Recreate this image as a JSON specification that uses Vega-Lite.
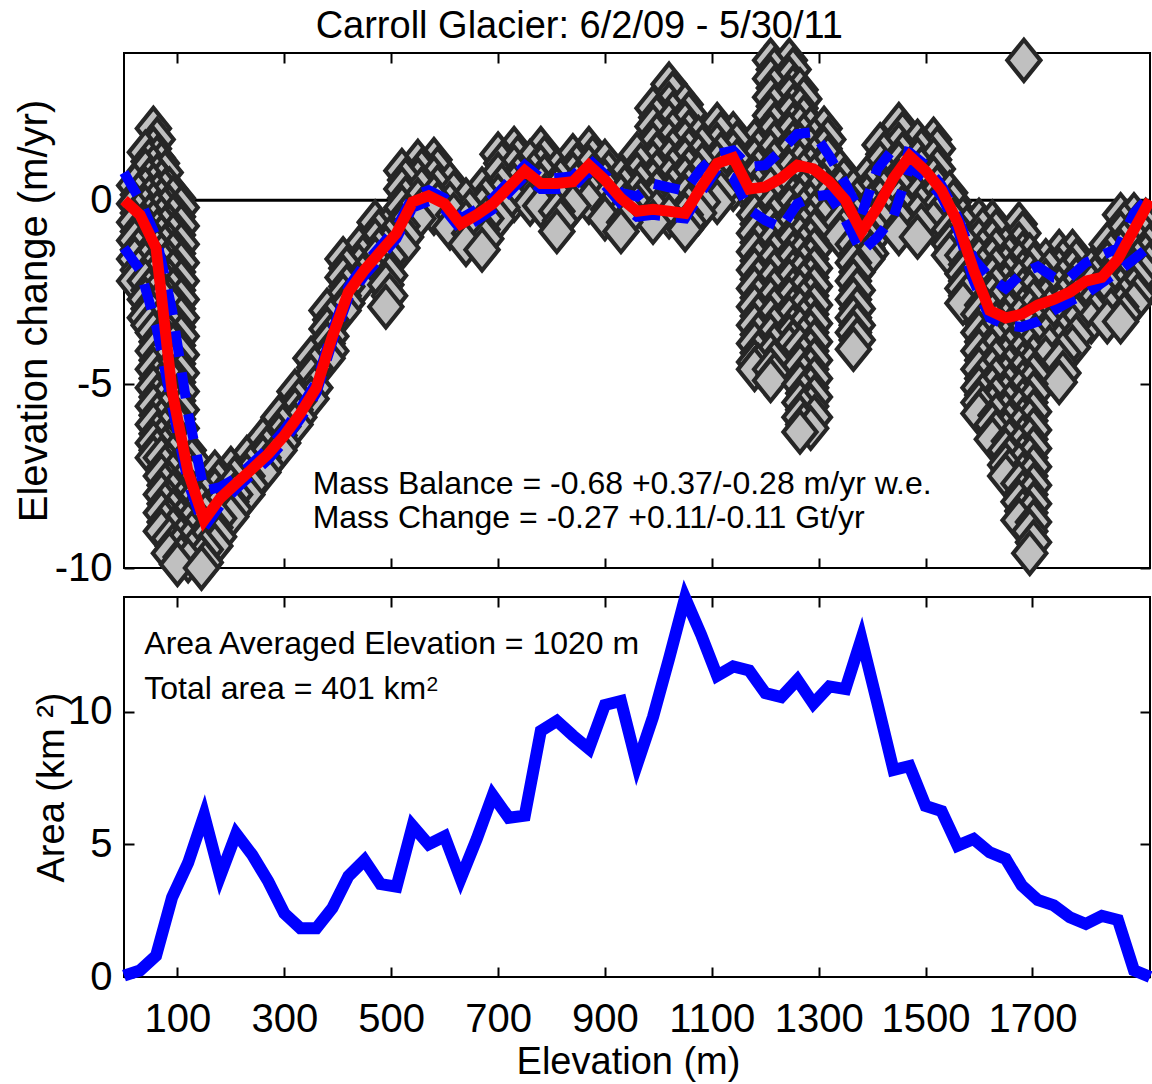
{
  "$schema": "https://vega.github.io/schema/vega-lite/v6.json",
  "autosize": {"type": "pad"},
  "padding": {"left": 12, "top": 6, "right": 0, "bottom": 0},
  "background": "white",
  "bounds": "flush",
  "spacing": 29,
  "config": {
    "font": "Liberation Sans",
    "view": {"stroke": "black", "strokeWidth": 2},
    "axis": {
      "grid": false,
      "domain": false,
      "tickColor": "black",
      "tickWidth": 2,
      "tickSize": -10,
      "labelColor": "black",
      "labelFont": "Liberation Sans",
      "labelFontSize": 40,
      "labelExpr": "'' + datum.value",
      "titleFont": "Liberation Sans",
      "titleFontWeight": "normal",
      "titleColor": "black"
    }
  },
  "datasets": {
    "lines": [
      {"e": 0, "r": 0.0, "u": 0.75, "l": -1.3, "a": 0.05},
      {"e": 30, "r": -0.4, "u": 0.0, "l": -1.9, "a": 0.25},
      {"e": 60, "r": -1.3, "u": -1.0, "l": -3.4, "a": 0.8},
      {"e": 90, "r": -5.2, "u": -3.0, "l": -5.6, "a": 3.0},
      {"e": 120, "r": -7.4, "u": -5.8, "l": -7.7, "a": 4.3},
      {"e": 150, "r": -8.7, "u": -7.9, "l": -8.9, "a": 6.1},
      {"e": 180, "r": -8.1, "u": -7.8, "l": -8.3, "a": 3.8},
      {"e": 210, "r": -7.7, "u": -7.55, "l": -7.85, "a": 5.4},
      {"e": 240, "r": -7.3, "u": -7.15, "l": -7.45, "a": 4.6},
      {"e": 270, "r": -6.9, "u": -6.75, "l": -7.05, "a": 3.6},
      {"e": 300, "r": -6.4, "u": -6.25, "l": -6.55, "a": 2.4},
      {"e": 330, "r": -5.8, "u": -5.65, "l": -5.95, "a": 1.84},
      {"e": 360, "r": -5.1, "u": -4.95, "l": -5.25, "a": 1.84},
      {"e": 390, "r": -3.7, "u": -3.55, "l": -3.85, "a": 2.6},
      {"e": 420, "r": -2.5, "u": -2.35, "l": -2.65, "a": 3.8},
      {"e": 450, "r": -1.9, "u": -1.75, "l": -2.05, "a": 4.4},
      {"e": 480, "r": -1.4, "u": -1.25, "l": -1.55, "a": 3.5},
      {"e": 510, "r": -0.9, "u": -0.75, "l": -1.05, "a": 3.4},
      {"e": 540, "r": -0.05, "u": 0.1, "l": -0.2, "a": 5.7},
      {"e": 570, "r": 0.12, "u": 0.27, "l": -0.03, "a": 5.0},
      {"e": 600, "r": -0.1, "u": 0.05, "l": -0.25, "a": 5.3},
      {"e": 630, "r": -0.65, "u": -0.5, "l": -0.8, "a": 3.7},
      {"e": 660, "r": -0.4, "u": -0.25, "l": -0.55, "a": 5.2},
      {"e": 690, "r": -0.1, "u": 0.05, "l": -0.25, "a": 6.85},
      {"e": 720, "r": 0.35, "u": 0.5, "l": 0.2, "a": 6.0},
      {"e": 750, "r": 0.8, "u": 0.95, "l": 0.65, "a": 6.08},
      {"e": 780, "r": 0.45, "u": 0.6, "l": 0.3, "a": 9.27},
      {"e": 810, "r": 0.45, "u": 0.6, "l": 0.3, "a": 9.65},
      {"e": 840, "r": 0.5, "u": 0.65, "l": 0.35, "a": 9.1},
      {"e": 870, "r": 0.95, "u": 1.1, "l": 0.8, "a": 8.6},
      {"e": 900, "r": 0.55, "u": 0.7, "l": 0.4, "a": 10.25},
      {"e": 930, "r": 0.05, "u": 0.2, "l": -0.1, "a": 10.4},
      {"e": 960, "r": -0.3, "u": 0.1, "l": -0.45, "a": 8.0},
      {"e": 990, "r": -0.25, "u": 0.45, "l": -0.4, "a": 9.8},
      {"e": 1020, "r": -0.3, "u": 0.35, "l": -0.45, "a": 12.0},
      {"e": 1050, "r": -0.36, "u": 0.25, "l": -0.5, "a": 14.29},
      {"e": 1080, "r": 0.35, "u": 0.85, "l": 0.2, "a": 12.9},
      {"e": 1110, "r": 1.0, "u": 1.25, "l": 0.85, "a": 11.35},
      {"e": 1140, "r": 1.15, "u": 1.35, "l": 0.6, "a": 11.7},
      {"e": 1170, "r": 0.3, "u": 0.9, "l": -0.25, "a": 11.55},
      {"e": 1200, "r": 0.36, "u": 0.95, "l": -0.55, "a": 10.7},
      {"e": 1230, "r": 0.6, "u": 1.35, "l": -0.75, "a": 10.55},
      {"e": 1260, "r": 0.95, "u": 1.8, "l": -0.1, "a": 11.2},
      {"e": 1290, "r": 0.85, "u": 1.85, "l": 0.1, "a": 10.3},
      {"e": 1320, "r": 0.5, "u": 1.2, "l": 0.15, "a": 10.95},
      {"e": 1350, "r": 0.0, "u": 0.45, "l": -0.55, "a": 10.85},
      {"e": 1380, "r": -0.86, "u": -0.4, "l": -1.4, "a": 12.75},
      {"e": 1410, "r": -0.2, "u": 0.85, "l": -1.0, "a": 10.3},
      {"e": 1440, "r": 0.6, "u": 1.4, "l": -0.45, "a": 7.8},
      {"e": 1470, "r": 1.2, "u": 1.3, "l": 0.9, "a": 7.95},
      {"e": 1500, "r": 0.8, "u": 0.95, "l": 0.6, "a": 6.45},
      {"e": 1530, "r": 0.27, "u": 0.4, "l": 0.1, "a": 6.25},
      {"e": 1560, "r": -0.6, "u": -0.45, "l": -0.8, "a": 4.95},
      {"e": 1590, "r": -1.9, "u": -1.6, "l": -2.2, "a": 5.2},
      {"e": 1620, "r": -3.0, "u": -2.1, "l": -3.2, "a": 4.7},
      {"e": 1650, "r": -3.2, "u": -2.4, "l": -3.4, "a": 4.45},
      {"e": 1680, "r": -3.1, "u": -2.0, "l": -3.45, "a": 3.45},
      {"e": 1710, "r": -2.85, "u": -1.8, "l": -3.3, "a": 2.9},
      {"e": 1740, "r": -2.7, "u": -2.1, "l": -3.0, "a": 2.7},
      {"e": 1770, "r": -2.5, "u": -2.1, "l": -2.75, "a": 2.25},
      {"e": 1800, "r": -2.2, "u": -1.7, "l": -2.55, "a": 2.0},
      {"e": 1830, "r": -2.1, "u": -1.5, "l": -2.25, "a": 2.3},
      {"e": 1860, "r": -1.6, "u": -1.3, "l": -1.95, "a": 2.15},
      {"e": 1890, "r": -0.8, "u": -0.35, "l": -1.6, "a": 0.25},
      {"e": 1920, "r": 0.0, "u": 0.1, "l": -1.25, "a": 0.0}
    ],
    "scatter": [
      {"e":20,"v":0.4},{"e":20,"v":-0.1},{"e":20,"v":-0.6},{"e":20,"v":-1.1},{"e":20,"v":-1.6},{"e":20,"v":-2.2},
      {"e":40,"v":1.3},{"e":40,"v":0.8},{"e":40,"v":0.3},{"e":40,"v":-0.2},{"e":40,"v":-0.7},{"e":40,"v":-1.2},{"e":40,"v":-1.7},{"e":40,"v":-2.2},{"e":40,"v":-2.7},{"e":40,"v":-3.2},
      {"e":55,"v":1.95},{"e":55,"v":1.4},{"e":55,"v":0.9},{"e":55,"v":0.4},{"e":55,"v":-0.1},{"e":55,"v":-0.6},{"e":55,"v":-1.1},{"e":55,"v":-1.6},{"e":55,"v":-2.1},{"e":55,"v":-2.6},{"e":55,"v":-3.1},{"e":55,"v":-3.6},{"e":55,"v":-4.1},{"e":55,"v":-4.6},{"e":55,"v":-5.1},{"e":55,"v":-5.6},{"e":55,"v":-6.1},{"e":55,"v":-6.6},{"e":55,"v":-7.0},
      {"e":70,"v":1.0},{"e":70,"v":0.5},{"e":70,"v":0.0},{"e":70,"v":-0.5},{"e":70,"v":-1.0},{"e":70,"v":-1.5},{"e":70,"v":-2.0},{"e":70,"v":-2.5},{"e":70,"v":-3.0},{"e":70,"v":-3.5},{"e":70,"v":-4.0},{"e":70,"v":-4.5},{"e":70,"v":-5.0},{"e":70,"v":-5.5},{"e":70,"v":-6.0},{"e":70,"v":-6.5},{"e":70,"v":-7.0},{"e":70,"v":-7.5},{"e":70,"v":-8.0},{"e":70,"v":-8.5},{"e":70,"v":-9.0},
      {"e":85,"v":0.3},{"e":85,"v":-0.2},{"e":85,"v":-0.7},{"e":85,"v":-1.2},{"e":85,"v":-1.7},{"e":85,"v":-2.2},{"e":85,"v":-2.7},{"e":85,"v":-3.2},{"e":85,"v":-3.7},{"e":85,"v":-4.2},{"e":85,"v":-4.7},{"e":85,"v":-5.2},{"e":85,"v":-5.7},{"e":85,"v":-6.2},{"e":85,"v":-6.7},{"e":85,"v":-7.2},{"e":85,"v":-7.7},{"e":85,"v":-8.2},{"e":85,"v":-8.7},{"e":85,"v":-9.2},{"e":85,"v":-9.6},
      {"e":100,"v":0.05},{"e":100,"v":-0.45},{"e":100,"v":-0.95},{"e":100,"v":-1.45},{"e":100,"v":-1.95},{"e":100,"v":-2.45},{"e":100,"v":-2.95},{"e":100,"v":-3.45},{"e":100,"v":-3.95},{"e":100,"v":-4.45},{"e":100,"v":-4.95},{"e":100,"v":-5.45},{"e":100,"v":-5.95},{"e":100,"v":-6.45},{"e":100,"v":-6.95},{"e":100,"v":-7.45},{"e":100,"v":-7.95},{"e":100,"v":-8.45},{"e":100,"v":-8.95},{"e":100,"v":-9.45},{"e":100,"v":-9.9},
      {"e":120,"v":-6.8},{"e":120,"v":-7.3},{"e":120,"v":-7.8},{"e":120,"v":-8.3},{"e":120,"v":-8.8},{"e":120,"v":-9.3},{"e":120,"v":-9.8},
      {"e":145,"v":-7.8},{"e":145,"v":-8.3},{"e":145,"v":-8.8},{"e":145,"v":-9.3},{"e":145,"v":-9.7},{"e":145,"v":-10.0},
      {"e":170,"v":-7.4},{"e":170,"v":-7.9},{"e":170,"v":-8.4},{"e":170,"v":-8.9},{"e":170,"v":-9.4},
      {"e":200,"v":-7.3},{"e":200,"v":-7.8},{"e":200,"v":-8.2},{"e":200,"v":-8.6},
      {"e":230,"v":-7.0},{"e":230,"v":-7.5},{"e":230,"v":-8.0},
      {"e":260,"v":-6.5},{"e":260,"v":-7.0},{"e":260,"v":-7.4},
      {"e":290,"v":-5.9},{"e":290,"v":-6.4},{"e":290,"v":-6.8},
      {"e":320,"v":-5.2},{"e":320,"v":-5.7},{"e":320,"v":-6.1},
      {"e":350,"v":-4.3},{"e":350,"v":-4.8},{"e":350,"v":-5.4},
      {"e":380,"v":-3.0},{"e":380,"v":-3.5},{"e":380,"v":-3.9},{"e":380,"v":-4.3},
      {"e":410,"v":-1.6},{"e":410,"v":-2.1},{"e":410,"v":-2.6},{"e":410,"v":-3.0},
      {"e":440,"v":-1.3},{"e":440,"v":-1.8},{"e":440,"v":-2.3},
      {"e":470,"v":-0.6},{"e":470,"v":-1.1},{"e":470,"v":-1.6},{"e":470,"v":-2.0},
      {"e":490,"v":-0.8},{"e":490,"v":-1.3},{"e":490,"v":-1.8},{"e":490,"v":-2.3},{"e":490,"v":-2.9},
      {"e":520,"v":0.8},{"e":520,"v":0.3},{"e":520,"v":-0.2},{"e":520,"v":-0.7},{"e":520,"v":-1.3},
      {"e":550,"v":1.05},{"e":550,"v":0.55},{"e":550,"v":0.0},{"e":550,"v":-0.5},
      {"e":580,"v":1.1},{"e":580,"v":0.6},{"e":580,"v":0.1},{"e":580,"v":-0.35},
      {"e":610,"v":0.45},{"e":610,"v":-0.1},{"e":610,"v":-0.75},
      {"e":640,"v":0.0},{"e":640,"v":-0.6},{"e":640,"v":-1.2},
      {"e":670,"v":0.3},{"e":670,"v":-0.2},{"e":670,"v":-0.8},{"e":670,"v":-1.35},
      {"e":700,"v":1.25},{"e":700,"v":0.7},{"e":700,"v":0.1},{"e":700,"v":-0.5},
      {"e":730,"v":1.4},{"e":730,"v":0.9},{"e":730,"v":0.4},{"e":730,"v":0.0},
      {"e":760,"v":1.05},{"e":760,"v":0.5},{"e":760,"v":-0.1},
      {"e":780,"v":1.4},{"e":780,"v":0.9},{"e":780,"v":0.4},{"e":780,"v":-0.15},
      {"e":810,"v":0.8},{"e":810,"v":0.3},{"e":810,"v":-0.3},{"e":810,"v":-0.85},
      {"e":840,"v":1.2},{"e":840,"v":0.7},{"e":840,"v":0.2},{"e":840,"v":-0.15},
      {"e":870,"v":1.4},{"e":870,"v":0.9},{"e":870,"v":0.4},{"e":870,"v":-0.05},
      {"e":900,"v":1.05},{"e":900,"v":0.5},{"e":900,"v":0.0},{"e":900,"v":-0.5},
      {"e":930,"v":0.6},{"e":930,"v":0.1},{"e":930,"v":-0.4},{"e":930,"v":-0.85},
      {"e":960,"v":1.25},{"e":960,"v":0.7},{"e":960,"v":0.2},{"e":960,"v":-0.15},
      {"e":990,"v":2.5},{"e":990,"v":2.0},{"e":990,"v":1.5},{"e":990,"v":1.0},{"e":990,"v":0.5},{"e":990,"v":0.0},{"e":990,"v":-0.6},
      {"e":1020,"v":3.15},{"e":1020,"v":2.6},{"e":1020,"v":2.1},{"e":1020,"v":1.6},{"e":1020,"v":1.1},{"e":1020,"v":0.6},{"e":1020,"v":0.1},{"e":1020,"v":-0.45},
      {"e":1050,"v":2.6},{"e":1050,"v":2.1},{"e":1050,"v":1.6},{"e":1050,"v":1.1},{"e":1050,"v":0.6},{"e":1050,"v":0.1},{"e":1050,"v":-0.4},{"e":1050,"v":-0.8},
      {"e":1075,"v":1.7},{"e":1075,"v":1.2},{"e":1075,"v":0.7},{"e":1075,"v":0.2},{"e":1075,"v":-0.35},
      {"e":1110,"v":2.05},{"e":1110,"v":1.5},{"e":1110,"v":1.0},{"e":1110,"v":0.5},{"e":1110,"v":-0.05},
      {"e":1140,"v":1.8},{"e":1140,"v":1.3},{"e":1140,"v":0.8},{"e":1140,"v":0.3},
      {"e":1180,"v":1.6},{"e":1180,"v":1.1},{"e":1180,"v":0.6},{"e":1180,"v":0.1},{"e":1180,"v":-0.4},{"e":1180,"v":-0.9},{"e":1180,"v":-1.4},{"e":1180,"v":-1.9},{"e":1180,"v":-2.4},{"e":1180,"v":-2.9},{"e":1180,"v":-3.4},{"e":1180,"v":-3.9},{"e":1180,"v":-4.4},{"e":1180,"v":-4.6},
      {"e":1210,"v":3.8},{"e":1210,"v":3.3},{"e":1210,"v":2.8},{"e":1210,"v":2.3},{"e":1210,"v":1.8},{"e":1210,"v":1.3},{"e":1210,"v":0.8},{"e":1210,"v":0.3},{"e":1210,"v":-0.2},{"e":1210,"v":-0.7},{"e":1210,"v":-1.2},{"e":1210,"v":-1.7},{"e":1210,"v":-2.2},{"e":1210,"v":-2.7},{"e":1210,"v":-3.2},{"e":1210,"v":-3.7},{"e":1210,"v":-4.2},{"e":1210,"v":-4.6},{"e":1210,"v":-4.9},
      {"e":1245,"v":3.8},{"e":1245,"v":3.3},{"e":1245,"v":2.8},{"e":1245,"v":2.3},{"e":1245,"v":1.8},{"e":1245,"v":1.3},{"e":1245,"v":0.8},{"e":1245,"v":0.3},{"e":1245,"v":-0.2},{"e":1245,"v":-0.7},{"e":1245,"v":-1.2},{"e":1245,"v":-1.7},{"e":1245,"v":-2.2},{"e":1245,"v":-2.7},{"e":1245,"v":-3.2},{"e":1245,"v":-3.7},{"e":1245,"v":-4.0},
      {"e":1265,"v":3.0},{"e":1265,"v":2.5},{"e":1265,"v":2.0},{"e":1265,"v":1.5},{"e":1265,"v":1.0},{"e":1265,"v":0.5},{"e":1265,"v":0.0},{"e":1265,"v":-0.5},{"e":1265,"v":-1.0},{"e":1265,"v":-1.5},{"e":1265,"v":-2.0},{"e":1265,"v":-2.5},{"e":1265,"v":-3.0},{"e":1265,"v":-3.5},{"e":1265,"v":-4.0},{"e":1265,"v":-4.5},{"e":1265,"v":-5.0},{"e":1265,"v":-5.5},{"e":1265,"v":-5.9},{"e":1265,"v":-6.3},
      {"e":1285,"v":1.95},{"e":1285,"v":1.4},{"e":1285,"v":0.9},{"e":1285,"v":0.4},{"e":1285,"v":-0.1},{"e":1285,"v":-0.6},{"e":1285,"v":-1.1},{"e":1285,"v":-1.6},{"e":1285,"v":-2.1},{"e":1285,"v":-2.6},{"e":1285,"v":-3.1},{"e":1285,"v":-3.6},{"e":1285,"v":-4.1},{"e":1285,"v":-4.6},{"e":1285,"v":-5.1},{"e":1285,"v":-5.6},{"e":1285,"v":-6.2},
      {"e":1310,"v":1.95},{"e":1310,"v":1.4},{"e":1310,"v":0.9},{"e":1310,"v":0.4},{"e":1310,"v":0.0},{"e":1310,"v":-0.5},
      {"e":1340,"v":0.8},{"e":1340,"v":0.3},{"e":1340,"v":-0.2},{"e":1340,"v":-0.6},{"e":1340,"v":-1.0},
      {"e":1365,"v":0.27},{"e":1365,"v":-0.2},{"e":1365,"v":-0.7},{"e":1365,"v":-1.2},{"e":1365,"v":-1.7},{"e":1365,"v":-2.2},{"e":1365,"v":-2.7},{"e":1365,"v":-3.2},{"e":1365,"v":-3.6},{"e":1365,"v":-4.05},
      {"e":1390,"v":0.6},{"e":1390,"v":0.1},{"e":1390,"v":-0.4},{"e":1390,"v":-0.9},{"e":1390,"v":-1.3},{"e":1390,"v":-1.6},
      {"e":1415,"v":1.5},{"e":1415,"v":1.0},{"e":1415,"v":0.5},{"e":1415,"v":0.0},{"e":1415,"v":-0.5},
      {"e":1450,"v":2.05},{"e":1450,"v":1.5},{"e":1450,"v":1.0},{"e":1450,"v":0.5},{"e":1450,"v":0.0},{"e":1450,"v":-0.45},{"e":1450,"v":-0.9},
      {"e":1485,"v":1.6},{"e":1485,"v":1.1},{"e":1485,"v":0.6},{"e":1485,"v":0.1},{"e":1485,"v":-0.4},{"e":1485,"v":-1.0},
      {"e":1515,"v":1.65},{"e":1515,"v":1.1},{"e":1515,"v":0.6},{"e":1515,"v":0.1},{"e":1515,"v":-0.3},{"e":1515,"v":-0.6},
      {"e":1545,"v":0.2},{"e":1545,"v":-0.3},{"e":1545,"v":-0.8},{"e":1545,"v":-1.2},{"e":1545,"v":-1.5},
      {"e":1570,"v":-0.5},{"e":1570,"v":-1.0},{"e":1570,"v":-1.5},{"e":1570,"v":-2.0},{"e":1570,"v":-2.4},{"e":1570,"v":-2.8},
      {"e":1600,"v":-0.55},{"e":1600,"v":-1.1},{"e":1600,"v":-1.6},{"e":1600,"v":-2.1},{"e":1600,"v":-2.6},{"e":1600,"v":-3.1},{"e":1600,"v":-3.6},{"e":1600,"v":-4.1},{"e":1600,"v":-4.6},{"e":1600,"v":-5.1},{"e":1600,"v":-5.5},{"e":1600,"v":-5.8},
      {"e":1625,"v":-0.6},{"e":1625,"v":-1.1},{"e":1625,"v":-1.6},{"e":1625,"v":-2.1},{"e":1625,"v":-2.6},{"e":1625,"v":-3.1},{"e":1625,"v":-3.6},{"e":1625,"v":-4.1},{"e":1625,"v":-4.6},{"e":1625,"v":-5.1},{"e":1625,"v":-5.6},{"e":1625,"v":-6.1},{"e":1625,"v":-6.5},
      {"e":1650,"v":-1.3},{"e":1650,"v":-1.8},{"e":1650,"v":-2.3},{"e":1650,"v":-2.8},{"e":1650,"v":-3.3},{"e":1650,"v":-3.8},{"e":1650,"v":-4.3},{"e":1650,"v":-4.8},{"e":1650,"v":-5.3},{"e":1650,"v":-5.8},{"e":1650,"v":-6.3},{"e":1650,"v":-6.8},{"e":1650,"v":-7.2},{"e":1650,"v":-7.5},
      {"e":1675,"v":-0.65},{"e":1675,"v":-1.2},{"e":1675,"v":-1.7},{"e":1675,"v":-2.2},{"e":1675,"v":-2.7},{"e":1675,"v":-3.2},{"e":1675,"v":-3.7},{"e":1675,"v":-4.2},{"e":1675,"v":-4.7},{"e":1675,"v":-5.2},{"e":1675,"v":-5.7},{"e":1675,"v":-6.2},{"e":1675,"v":-6.7},{"e":1675,"v":-7.2},{"e":1675,"v":-7.7},{"e":1675,"v":-8.2},{"e":1675,"v":-8.7},
      {"e":1695,"v":-1.5},{"e":1695,"v":-2.0},{"e":1695,"v":-2.5},{"e":1695,"v":-3.0},{"e":1695,"v":-3.5},{"e":1695,"v":-4.0},{"e":1695,"v":-4.5},{"e":1695,"v":-5.0},{"e":1695,"v":-5.5},{"e":1695,"v":-6.0},{"e":1695,"v":-6.5},{"e":1695,"v":-7.0},{"e":1695,"v":-7.5},{"e":1695,"v":-8.0},{"e":1695,"v":-8.5},{"e":1695,"v":-9.0},{"e":1695,"v":-9.6},
      {"e":1725,"v":-1.65},{"e":1725,"v":-2.2},{"e":1725,"v":-2.7},{"e":1725,"v":-3.2},{"e":1725,"v":-3.7},{"e":1725,"v":-4.3},
      {"e":1750,"v":-1.4},{"e":1750,"v":-1.9},{"e":1750,"v":-2.4},{"e":1750,"v":-2.9},{"e":1750,"v":-3.4},{"e":1750,"v":-3.9},{"e":1750,"v":-4.4},{"e":1750,"v":-4.95},
      {"e":1775,"v":-1.4},{"e":1775,"v":-1.9},{"e":1775,"v":-2.4},{"e":1775,"v":-2.9},{"e":1775,"v":-3.4},{"e":1775,"v":-4.0},
      {"e":1810,"v":-1.9},{"e":1810,"v":-2.3},{"e":1810,"v":-2.8},{"e":1810,"v":-3.3},
      {"e":1840,"v":-1.2},{"e":1840,"v":-1.7},{"e":1840,"v":-2.2},{"e":1840,"v":-2.7},{"e":1840,"v":-3.3},
      {"e":1865,"v":-0.4},{"e":1865,"v":-0.9},{"e":1865,"v":-1.4},{"e":1865,"v":-1.9},{"e":1865,"v":-2.4},{"e":1865,"v":-2.9},{"e":1865,"v":-3.3},
      {"e":1890,"v":-0.4},{"e":1890,"v":-0.9},{"e":1890,"v":-1.4},{"e":1890,"v":-1.9},{"e":1890,"v":-2.4},{"e":1890,"v":-2.8},
      {"e":1912,"v":-0.55},{"e":1912,"v":-1.0},{"e":1912,"v":-1.5},{"e":1912,"v":-2.0},
      {"e":1684,"v":3.8},
      {"e":27,"v":0.15},{"e":27,"v":-0.35},{"e":27,"v":-0.85},{"e":27,"v":-1.35},{"e":27,"v":-1.9},
      {"e":47,"v":1.05},{"e":47,"v":0.55},{"e":47,"v":0.05},{"e":47,"v":-0.45},{"e":47,"v":-0.95},{"e":47,"v":-1.45},{"e":47,"v":-1.95},{"e":47,"v":-2.45},{"e":47,"v":-2.95},{"e":47,"v":-3.4},
      {"e":62,"v":1.65},{"e":62,"v":1.15},{"e":62,"v":0.65},{"e":62,"v":0.15},{"e":62,"v":-0.35},{"e":62,"v":-0.85},{"e":62,"v":-1.35},{"e":62,"v":-1.85},{"e":62,"v":-2.35},{"e":62,"v":-2.85},{"e":62,"v":-3.35},{"e":62,"v":-3.85},{"e":62,"v":-4.35},{"e":62,"v":-4.85},{"e":62,"v":-5.35},{"e":62,"v":-5.85},{"e":62,"v":-6.35},{"e":62,"v":-6.8},
      {"e":77,"v":0.75},{"e":77,"v":0.25},{"e":77,"v":-0.25},{"e":77,"v":-0.75},{"e":77,"v":-1.25},{"e":77,"v":-1.75},{"e":77,"v":-2.25},{"e":77,"v":-2.75},{"e":77,"v":-3.25},{"e":77,"v":-3.75},{"e":77,"v":-4.25},{"e":77,"v":-4.75},{"e":77,"v":-5.25},{"e":77,"v":-5.75},{"e":77,"v":-6.25},{"e":77,"v":-6.75},{"e":77,"v":-7.25},{"e":77,"v":-7.75},{"e":77,"v":-8.25},{"e":77,"v":-8.75},
      {"e":92,"v":0.05},{"e":92,"v":-0.45},{"e":92,"v":-0.95},{"e":92,"v":-1.45},{"e":92,"v":-1.95},{"e":92,"v":-2.45},{"e":92,"v":-2.95},{"e":92,"v":-3.45},{"e":92,"v":-3.95},{"e":92,"v":-4.45},{"e":92,"v":-4.95},{"e":92,"v":-5.45},{"e":92,"v":-5.95},{"e":92,"v":-6.45},{"e":92,"v":-6.95},{"e":92,"v":-7.45},{"e":92,"v":-7.95},{"e":92,"v":-8.45},{"e":92,"v":-8.95},{"e":92,"v":-9.4},
      {"e":107,"v":-0.2},{"e":107,"v":-0.7},{"e":107,"v":-1.2},{"e":107,"v":-1.7},{"e":107,"v":-2.2},{"e":107,"v":-2.7},{"e":107,"v":-3.2},{"e":107,"v":-3.7},{"e":107,"v":-4.2},{"e":107,"v":-4.7},{"e":107,"v":-5.2},{"e":107,"v":-5.7},{"e":107,"v":-6.2},{"e":107,"v":-6.7},{"e":107,"v":-7.2},{"e":107,"v":-7.7},{"e":107,"v":-8.2},{"e":107,"v":-8.7},{"e":107,"v":-9.2},{"e":107,"v":-9.7},
      {"e":127,"v":-7.05},{"e":127,"v":-7.55},{"e":127,"v":-8.05},{"e":127,"v":-8.55},{"e":127,"v":-9.05},{"e":127,"v":-9.55},
      {"e":152,"v":-8.05},{"e":152,"v":-8.55},{"e":152,"v":-9.05},{"e":152,"v":-9.5},{"e":152,"v":-9.85},
      {"e":177,"v":-7.65},{"e":177,"v":-8.15},{"e":177,"v":-8.65},{"e":177,"v":-9.15},
      {"e":207,"v":-7.55},{"e":207,"v":-8.0},{"e":207,"v":-8.4},
      {"e":237,"v":-7.25},{"e":237,"v":-7.75},
      {"e":267,"v":-6.75},{"e":267,"v":-7.2},
      {"e":297,"v":-6.15},{"e":297,"v":-6.6},
      {"e":327,"v":-5.45},{"e":327,"v":-5.9},
      {"e":357,"v":-4.55},{"e":357,"v":-5.1},
      {"e":387,"v":-3.25},{"e":387,"v":-3.7},{"e":387,"v":-4.1},
      {"e":417,"v":-1.85},{"e":417,"v":-2.35},{"e":417,"v":-2.8},
      {"e":447,"v":-1.55},{"e":447,"v":-2.05},
      {"e":477,"v":-0.85},{"e":477,"v":-1.35},{"e":477,"v":-1.8},
      {"e":497,"v":-1.05},{"e":497,"v":-1.55},{"e":497,"v":-2.05},{"e":497,"v":-2.6},
      {"e":527,"v":0.55},{"e":527,"v":0.05},{"e":527,"v":-0.45},{"e":527,"v":-1.0},
      {"e":557,"v":0.8},{"e":557,"v":0.3},{"e":557,"v":-0.25},
      {"e":587,"v":0.85},{"e":587,"v":0.35},{"e":587,"v":-0.1},
      {"e":617,"v":0.2},{"e":617,"v":-0.4},
      {"e":647,"v":-0.3},{"e":647,"v":-0.9},
      {"e":677,"v":0.05},{"e":677,"v":-0.5},{"e":677,"v":-1.05},
      {"e":707,"v":1.0},{"e":707,"v":0.4},{"e":707,"v":-0.2},
      {"e":737,"v":1.15},{"e":737,"v":0.65},{"e":737,"v":0.2},
      {"e":767,"v":0.75},{"e":767,"v":0.2},
      {"e":787,"v":1.15},{"e":787,"v":0.65},{"e":787,"v":0.1},
      {"e":817,"v":0.55},{"e":817,"v":0.0},{"e":817,"v":-0.55},
      {"e":847,"v":0.95},{"e":847,"v":0.45},{"e":847,"v":0.0},
      {"e":877,"v":1.15},{"e":877,"v":0.65},{"e":877,"v":0.15},
      {"e":907,"v":0.75},{"e":907,"v":0.25},{"e":907,"v":-0.25},
      {"e":937,"v":0.35},{"e":937,"v":-0.15},{"e":937,"v":-0.6},
      {"e":967,"v":0.95},{"e":967,"v":0.45},{"e":967,"v":0.0},
      {"e":997,"v":2.25},{"e":997,"v":1.75},{"e":997,"v":1.25},{"e":997,"v":0.75},{"e":997,"v":0.25},{"e":997,"v":-0.3},
      {"e":1027,"v":2.9},{"e":1027,"v":2.35},{"e":1027,"v":1.85},{"e":1027,"v":1.35},{"e":1027,"v":0.85},{"e":1027,"v":0.35},{"e":1027,"v":-0.15},
      {"e":1057,"v":2.35},{"e":1057,"v":1.85},{"e":1057,"v":1.35},{"e":1057,"v":0.85},{"e":1057,"v":0.35},{"e":1057,"v":-0.15},{"e":1057,"v":-0.6},
      {"e":1082,"v":1.45},{"e":1082,"v":0.95},{"e":1082,"v":0.45},{"e":1082,"v":-0.05},
      {"e":1117,"v":1.8},{"e":1117,"v":1.25},{"e":1117,"v":0.75},{"e":1117,"v":0.2},
      {"e":1147,"v":1.55},{"e":1147,"v":1.05},{"e":1147,"v":0.55},
      {"e":1187,"v":1.35},{"e":1187,"v":0.85},{"e":1187,"v":0.35},{"e":1187,"v":-0.15},{"e":1187,"v":-0.65},{"e":1187,"v":-1.15},{"e":1187,"v":-1.65},{"e":1187,"v":-2.15},{"e":1187,"v":-2.65},{"e":1187,"v":-3.15},{"e":1187,"v":-3.65},{"e":1187,"v":-4.15},{"e":1187,"v":-4.5},
      {"e":1217,"v":3.55},{"e":1217,"v":3.05},{"e":1217,"v":2.55},{"e":1217,"v":2.05},{"e":1217,"v":1.55},{"e":1217,"v":1.05},{"e":1217,"v":0.55},{"e":1217,"v":0.05},{"e":1217,"v":-0.45},{"e":1217,"v":-0.95},{"e":1217,"v":-1.45},{"e":1217,"v":-1.95},{"e":1217,"v":-2.45},{"e":1217,"v":-2.95},{"e":1217,"v":-3.45},{"e":1217,"v":-3.95},{"e":1217,"v":-4.4},{"e":1217,"v":-4.75},
      {"e":1252,"v":3.55},{"e":1252,"v":3.05},{"e":1252,"v":2.55},{"e":1252,"v":2.05},{"e":1252,"v":1.55},{"e":1252,"v":1.05},{"e":1252,"v":0.55},{"e":1252,"v":0.05},{"e":1252,"v":-0.45},{"e":1252,"v":-0.95},{"e":1252,"v":-1.45},{"e":1252,"v":-1.95},{"e":1252,"v":-2.45},{"e":1252,"v":-2.95},{"e":1252,"v":-3.45},{"e":1252,"v":-3.85},
      {"e":1272,"v":2.75},{"e":1272,"v":2.25},{"e":1272,"v":1.75},{"e":1272,"v":1.25},{"e":1272,"v":0.75},{"e":1272,"v":0.25},{"e":1272,"v":-0.25},{"e":1272,"v":-0.75},{"e":1272,"v":-1.25},{"e":1272,"v":-1.75},{"e":1272,"v":-2.25},{"e":1272,"v":-2.75},{"e":1272,"v":-3.25},{"e":1272,"v":-3.75},{"e":1272,"v":-4.25},{"e":1272,"v":-4.75},{"e":1272,"v":-5.25},{"e":1272,"v":-5.7},{"e":1272,"v":-6.1},
      {"e":1292,"v":1.65},{"e":1292,"v":1.15},{"e":1292,"v":0.65},{"e":1292,"v":0.15},{"e":1292,"v":-0.35},{"e":1292,"v":-0.85},{"e":1292,"v":-1.35},{"e":1292,"v":-1.85},{"e":1292,"v":-2.35},{"e":1292,"v":-2.85},{"e":1292,"v":-3.35},{"e":1292,"v":-3.85},{"e":1292,"v":-4.35},{"e":1292,"v":-4.85},{"e":1292,"v":-5.35},{"e":1292,"v":-5.9},
      {"e":1317,"v":1.65},{"e":1317,"v":1.15},{"e":1317,"v":0.65},{"e":1317,"v":0.2},{"e":1317,"v":-0.25},
      {"e":1347,"v":0.55},{"e":1347,"v":0.05},{"e":1347,"v":-0.4},{"e":1347,"v":-0.8},
      {"e":1372,"v":0.0},{"e":1372,"v":-0.45},{"e":1372,"v":-0.95},{"e":1372,"v":-1.45},{"e":1372,"v":-1.95},{"e":1372,"v":-2.45},{"e":1372,"v":-2.95},{"e":1372,"v":-3.4},{"e":1372,"v":-3.8},
      {"e":1397,"v":0.35},{"e":1397,"v":-0.15},{"e":1397,"v":-0.65},{"e":1397,"v":-1.1},{"e":1397,"v":-1.45},
      {"e":1422,"v":1.25},{"e":1422,"v":0.75},{"e":1422,"v":0.25},{"e":1422,"v":-0.25},
      {"e":1457,"v":1.8},{"e":1457,"v":1.25},{"e":1457,"v":0.75},{"e":1457,"v":0.25},{"e":1457,"v":-0.2},{"e":1457,"v":-0.65},
      {"e":1492,"v":1.35},{"e":1492,"v":0.85},{"e":1492,"v":0.35},{"e":1492,"v":-0.15},{"e":1492,"v":-0.7},
      {"e":1522,"v":1.4},{"e":1522,"v":0.85},{"e":1522,"v":0.35},{"e":1522,"v":-0.1},{"e":1522,"v":-0.45},
      {"e":1552,"v":-0.05},{"e":1552,"v":-0.55},{"e":1552,"v":-1.0},{"e":1552,"v":-1.35},
      {"e":1577,"v":-0.75},{"e":1577,"v":-1.25},{"e":1577,"v":-1.75},{"e":1577,"v":-2.2},{"e":1577,"v":-2.6},
      {"e":1607,"v":-0.8},{"e":1607,"v":-1.35},{"e":1607,"v":-1.85},{"e":1607,"v":-2.35},{"e":1607,"v":-2.85},{"e":1607,"v":-3.35},{"e":1607,"v":-3.85},{"e":1607,"v":-4.35},{"e":1607,"v":-4.85},{"e":1607,"v":-5.3},{"e":1607,"v":-5.65},
      {"e":1632,"v":-0.85},{"e":1632,"v":-1.35},{"e":1632,"v":-1.85},{"e":1632,"v":-2.35},{"e":1632,"v":-2.85},{"e":1632,"v":-3.35},{"e":1632,"v":-3.85},{"e":1632,"v":-4.35},{"e":1632,"v":-4.85},{"e":1632,"v":-5.35},{"e":1632,"v":-5.85},{"e":1632,"v":-6.3},
      {"e":1657,"v":-1.55},{"e":1657,"v":-2.05},{"e":1657,"v":-2.55},{"e":1657,"v":-3.05},{"e":1657,"v":-3.55},{"e":1657,"v":-4.05},{"e":1657,"v":-4.55},{"e":1657,"v":-5.05},{"e":1657,"v":-5.55},{"e":1657,"v":-6.05},{"e":1657,"v":-6.55},{"e":1657,"v":-7.0},{"e":1657,"v":-7.35},
      {"e":1682,"v":-0.9},{"e":1682,"v":-1.45},{"e":1682,"v":-1.95},{"e":1682,"v":-2.45},{"e":1682,"v":-2.95},{"e":1682,"v":-3.45},{"e":1682,"v":-3.95},{"e":1682,"v":-4.45},{"e":1682,"v":-4.95},{"e":1682,"v":-5.45},{"e":1682,"v":-5.95},{"e":1682,"v":-6.45},{"e":1682,"v":-6.95},{"e":1682,"v":-7.45},{"e":1682,"v":-7.95},{"e":1682,"v":-8.45},
      {"e":1702,"v":-1.75},{"e":1702,"v":-2.25},{"e":1702,"v":-2.75},{"e":1702,"v":-3.25},{"e":1702,"v":-3.75},{"e":1702,"v":-4.25},{"e":1702,"v":-4.75},{"e":1702,"v":-5.25},{"e":1702,"v":-5.75},{"e":1702,"v":-6.25},{"e":1702,"v":-6.75},{"e":1702,"v":-7.25},{"e":1702,"v":-7.75},{"e":1702,"v":-8.25},{"e":1702,"v":-8.75},{"e":1702,"v":-9.3},
      {"e":1732,"v":-1.9},{"e":1732,"v":-2.45},{"e":1732,"v":-2.95},{"e":1732,"v":-3.45},{"e":1732,"v":-4.0},
      {"e":1757,"v":-1.65},{"e":1757,"v":-2.15},{"e":1757,"v":-2.65},{"e":1757,"v":-3.15},{"e":1757,"v":-3.65},{"e":1757,"v":-4.15},{"e":1757,"v":-4.7},
      {"e":1782,"v":-1.65},{"e":1782,"v":-2.15},{"e":1782,"v":-2.65},{"e":1782,"v":-3.15},{"e":1782,"v":-3.7},
      {"e":1817,"v":-2.1},{"e":1817,"v":-2.55},{"e":1817,"v":-3.05},
      {"e":1847,"v":-1.45},{"e":1847,"v":-1.95},{"e":1847,"v":-2.45},{"e":1847,"v":-3.0},
      {"e":1872,"v":-0.65},{"e":1872,"v":-1.15},{"e":1872,"v":-1.65},{"e":1872,"v":-2.15},{"e":1872,"v":-2.65},{"e":1872,"v":-3.1},
      {"e":1897,"v":-0.65},{"e":1897,"v":-1.15},{"e":1897,"v":-1.65},{"e":1897,"v":-2.15},{"e":1897,"v":-2.6},
      {"e":1919,"v":-0.8},{"e":1919,"v":-1.25},{"e":1919,"v":-1.75}
    ]
  },
  "vconcat": [
    {
      "width": 1026,
      "height": 515,
      "layer": [
        {
          "data": {"values": [{}]},
          "mark": {"type": "rule", "color": "black", "strokeWidth": 3},
          "encoding": {
            "y": {"datum": 0, "type": "quantitative", "scale": {"domain": [-10, 4], "nice": false, "zero": false}, "axis": null}
          }
        },
        {
          "data": {"name": "scatter"},
          "mark": {
            "type": "point",
            "shape": "M0,-1.24L1,0L0,1.24L-1,0Z",
            "size": 1100,
            "filled": true,
            "fill": "#c0c0c0",
            "stroke": "#262626",
            "strokeWidth": 4.2,
            "strokeJoin": "miter",
            "opacity": 1,
            "fillOpacity": 1,
            "strokeOpacity": 1
          },
          "encoding": {
            "x": {
              "field": "e", "type": "quantitative",
              "scale": {"domain": [0, 1920], "nice": false, "zero": false},
              "axis": {"orient": "bottom", "values": [100, 300, 500, 700, 900, 1100, 1300, 1500, 1700], "labels": false, "title": null}
            },
            "y": {
              "field": "v", "type": "quantitative",
              "scale": {"domain": [-10, 4], "nice": false, "zero": false},
              "axis": {
                "orient": "left", "values": [-10, -5, 0], "labelPadding": 22,
                "title": "Elevation change (m/yr)", "titleFontSize": 40,
                "titleX": -78, "titleY": 257.5, "titleBaseline": "alphabetic", "titleAngle": 270, "titleAlign": "center"
              }
            },
            "order": {"field": "v", "type": "quantitative", "sort": "descending"}
          }
        },
        {
          "data": {"name": "lines"},
          "mark": {"type": "line", "color": "#0000ff", "strokeWidth": 10, "strokeDash": [26, 16], "strokeCap": "butt"},
          "encoding": {
            "x": {"field": "e", "type": "quantitative", "axis": null},
            "y": {"field": "u", "type": "quantitative", "axis": null}
          }
        },
        {
          "data": {"name": "lines"},
          "mark": {"type": "line", "color": "#0000ff", "strokeWidth": 10, "strokeDash": [26, 16], "strokeCap": "butt"},
          "encoding": {
            "x": {"field": "e", "type": "quantitative", "axis": null},
            "y": {"field": "l", "type": "quantitative", "axis": null}
          }
        },
        {
          "data": {"name": "lines"},
          "mark": {"type": "line", "color": "#ff0000", "strokeWidth": 11},
          "encoding": {
            "x": {"field": "e", "type": "quantitative", "axis": {"orient": "top", "values": [100, 300, 500, 700, 900, 1100, 1300, 1500, 1700], "labels": false, "title": null}},
            "y": {"field": "r", "type": "quantitative", "axis": {"orient": "right", "values": [-10, -5, 0], "labels": false, "title": null}}
          }
        },
        {
          "data": {"values": [{}]},
          "mark": {"type": "text", "text": "Carroll Glacier: 6/2/09 - 5/30/11", "fontSize": 38, "align": "center", "baseline": "alphabetic", "color": "black", "font": "Liberation Sans"},
          "encoding": {
            "x": {"datum": 852, "type": "quantitative", "axis": null},
            "y": {"datum": 4.42, "type": "quantitative", "axis": null}
          }
        },
        {
          "data": {"values": [{}]},
          "mark": {"type": "text", "text": "Mass Balance = -0.68 +0.37/-0.28 m/yr w.e.", "fontSize": 32, "align": "left", "baseline": "alphabetic", "color": "black", "font": "Liberation Sans"},
          "encoding": {
            "x": {"datum": 353, "type": "quantitative", "axis": null},
            "y": {"datum": -7.99, "type": "quantitative", "axis": null}
          }
        },
        {
          "data": {"values": [{}]},
          "mark": {"type": "text", "text": "Mass Change = -0.27 +0.11/-0.11 Gt/yr", "fontSize": 32, "align": "left", "baseline": "alphabetic", "color": "black", "font": "Liberation Sans"},
          "encoding": {
            "x": {"datum": 353, "type": "quantitative", "axis": null},
            "y": {"datum": -8.91, "type": "quantitative", "axis": null}
          }
        }
      ],
      "resolve": {"axis": {"x": "independent", "y": "independent"}}
    },
    {
      "width": 1026,
      "height": 380,
      "layer": [
        {
          "data": {"name": "lines"},
          "mark": {"type": "line", "color": "#0000ff", "strokeWidth": 12},
          "encoding": {
            "x": {
              "field": "e", "type": "quantitative",
              "scale": {"domain": [0, 1920], "nice": false, "zero": false},
              "axis": {
                "orient": "bottom", "values": [100, 300, 500, 700, 900, 1100, 1300, 1500, 1700], "labelPadding": 32,
                "title": "Elevation (m)", "titleFontSize": 38, "titleX": 504, "titleY": 96, "titleBaseline": "alphabetic", "titleAlign": "center"
              }
            },
            "y": {
              "field": "a", "type": "quantitative",
              "scale": {"domain": [0, 14.32], "nice": false, "zero": false},
              "axis": {
                "orient": "left", "values": [0, 5, 10], "labelPadding": 22,
                "title": "Area (km ²)", "titleFontSize": 38,
                "titleX": -61, "titleY": 190, "titleBaseline": "alphabetic", "titleAngle": 270, "titleAlign": "center"
              }
            }
          }
        },
        {
          "data": {"values": [{}]},
          "mark": {"type": "text", "text": "Area Averaged Elevation = 1020 m", "fontSize": 32, "align": "left", "baseline": "alphabetic", "color": "black", "font": "Liberation Sans"},
          "encoding": {
            "x": {"datum": 38, "type": "quantitative", "axis": {"orient": "top", "values": [100, 300, 500, 700, 900, 1100, 1300, 1500, 1700], "labels": false, "title": null}},
            "y": {"datum": 12.18, "type": "quantitative", "axis": {"orient": "right", "values": [0, 5, 10], "labels": false, "title": null}}
          }
        },
        {
          "data": {"values": [{}]},
          "mark": {"type": "text", "text": "Total area = 401 km", "fontSize": 32, "align": "left", "baseline": "alphabetic", "color": "black", "font": "Liberation Sans"},
          "encoding": {
            "x": {"datum": 38, "type": "quantitative", "axis": null},
            "y": {"datum": 10.49, "type": "quantitative", "axis": null}
          }
        },
        {
          "data": {"values": [{}]},
          "mark": {"type": "text", "text": "2", "fontSize": 21, "align": "left", "baseline": "alphabetic", "color": "black", "font": "Liberation Sans"},
          "encoding": {
            "x": {"datum": 566, "type": "quantitative", "axis": null},
            "y": {"datum": 10.79, "type": "quantitative", "axis": null}
          }
        }
      ],
      "resolve": {"axis": {"x": "independent", "y": "independent"}}
    }
  ]
}
